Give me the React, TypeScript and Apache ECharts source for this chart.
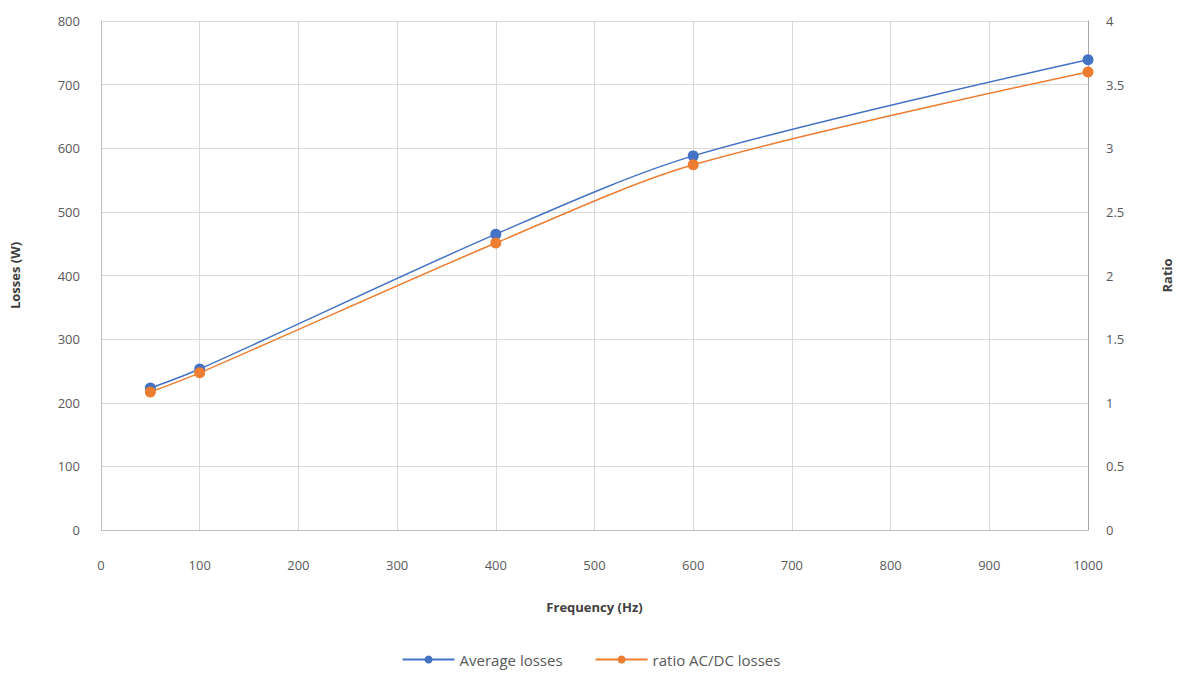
import React, { useEffect, useRef } from "react";
import * as echarts from "echarts";

const frequencies = [50, 100, 400, 600, 1000];
const averageLosses = [223, 253, 465, 588, 739];
const ratioACDC = [1.085, 1.235, 2.255, 2.87, 3.6];
const seriesNames = ["Average losses", "ratio AC/DC losses"];

export default function App() {
  const ref = useRef<HTMLDivElement>(null);
  useEffect(() => {
    if (!ref.current) return;
    const chart = echarts.init(ref.current, undefined, { renderer: "svg" });
    const font = "'Open Sans', 'Liberation Sans', sans-serif";
    const labelStyle = { color: "#595959", fontSize: 13, fontFamily: font };
    const nameStyle = { color: "#404040", fontSize: 13, fontWeight: "bold" as const, fontFamily: font };
    const grid = { lineStyle: { color: "#d9d9d9", width: 1 } };
    chart.setOption({
      animation: false,
      backgroundColor: "#ffffff",
      grid: { left: 101, right: 94, top: 21, bottom: 149 },
      legend: {
        bottom: 7,
        left: "center",
        itemWidth: 52,
        itemHeight: 10,
        itemGap: 32,
        textStyle: { color: "#595959", fontSize: 15, fontFamily: font },
        data: seriesNames,
      },
      xAxis: {
        type: "value",
        min: 0,
        max: 1000,
        interval: 100,
        name: "Frequency (Hz)",
        nameLocation: "middle",
        nameGap: 70,
        nameTextStyle: nameStyle,
        axisLabel: { ...labelStyle, margin: 28, formatter: (v: number) => String(v) },
        axisLine: { show: true, lineStyle: { color: "#bfbfbf" } },
        axisTick: { show: false },
        splitLine: { show: true, ...grid },
      },
      yAxis: [
        {
          type: "value",
          min: 0,
          max: 800,
          interval: 100,
          name: "Losses (W)",
          nameLocation: "middle",
          nameRotate: 90,
          nameGap: 80,
          nameTextStyle: nameStyle,
          axisLabel: { ...labelStyle, margin: 21 },
          axisLine: { show: true, lineStyle: { color: "#bfbfbf" } },
          axisTick: { show: false },
          splitLine: { show: true, ...grid },
        },
        {
          type: "value",
          position: "right",
          min: 0,
          max: 4,
          interval: 0.5,
          name: "Ratio",
          nameLocation: "middle",
          nameRotate: 90,
          nameGap: 72,
          nameTextStyle: nameStyle,
          axisLabel: { ...labelStyle, margin: 18 },
          axisLine: { show: true, lineStyle: { color: "#a6a6a6" } },
          axisTick: { show: false },
          splitLine: { show: false },
        },
      ],
      series: [
        {
          name: seriesNames[0],
          type: "line",
          yAxisIndex: 0,
          smooth: 0.3,
          symbol: "circle",
          symbolSize: 11,
          data: frequencies.map((f, i) => [f, averageLosses[i]]),
          itemStyle: { color: "#4472C4" },
          lineStyle: { color: "#4472C4", width: 1.5 },
        },
        {
          name: seriesNames[1],
          type: "line",
          yAxisIndex: 1,
          smooth: 0.3,
          symbol: "circle",
          symbolSize: 11,
          data: frequencies.map((f, i) => [f, ratioACDC[i]]),
          itemStyle: { color: "#ED7D31" },
          lineStyle: { color: "#ED7D31", width: 1.5 },
        },
      ],
    });
    return () => chart.dispose();
  }, []);
  return (
    <div
      ref={ref}
      style={{ position: "absolute", left: 0, top: 0, width: 1182, height: 679 }}
    />
  );
}
